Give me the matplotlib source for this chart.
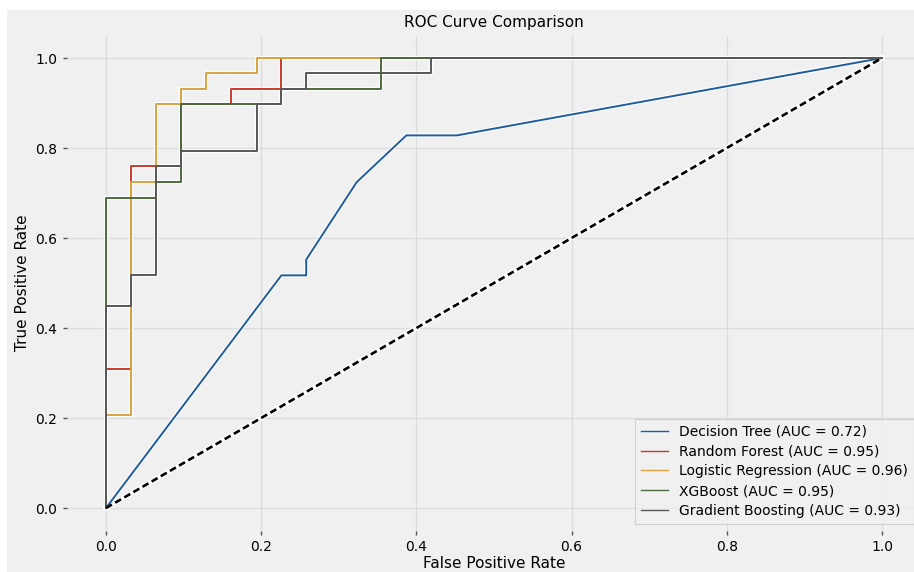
import matplotlib
matplotlib.use("Agg")
import matplotlib.pyplot as plt
from matplotlib.patches import Rectangle

# ROC vertices (29 positives / 31 negatives in the test set)
dt_fpr = [0.0, 0.226, 0.258, 0.258, 0.323, 0.387, 0.452, 1.0]
dt_tpr = [0.0, 0.517, 0.517, 0.552, 0.724, 0.828, 0.828, 1.0]

rf_fpr = [0.0, 0.0, 0.032, 0.032, 0.097, 0.097, 0.161, 0.161, 0.226, 0.226, 1.0]
rf_tpr = [0.0, 0.310, 0.310, 0.759, 0.759, 0.897, 0.897, 0.931, 0.931, 1.0, 1.0]

lr_fpr = [0.0, 0.0, 0.032, 0.032, 0.065, 0.065, 0.097, 0.097, 0.129, 0.129, 0.194, 0.194, 1.0]
lr_tpr = [0.0, 0.207, 0.207, 0.724, 0.724, 0.897, 0.897, 0.931, 0.931, 0.966, 0.966, 1.0, 1.0]

xgb_fpr = [0.0, 0.0, 0.065, 0.065, 0.097, 0.097, 0.226, 0.226, 0.355, 0.355, 1.0]
xgb_tpr = [0.0, 0.690, 0.690, 0.724, 0.724, 0.897, 0.897, 0.931, 0.931, 1.0, 1.0]

gb_fpr = [0.0, 0.0, 0.032, 0.032, 0.065, 0.065, 0.097, 0.097, 0.194, 0.194,
          0.226, 0.226, 0.258, 0.258, 0.419, 0.419, 1.0]
gb_tpr = [0.0, 0.448, 0.448, 0.517, 0.517, 0.759, 0.759, 0.793, 0.793, 0.897,
          0.897, 0.931, 0.931, 0.966, 0.966, 1.0, 1.0]

model_names = ["Decision Tree", "Random Forest", "Logistic Regression", "XGBoost", "Gradient Boosting"]
auc_scores = [0.72, 0.95, 0.96, 0.95, 0.93]
colors = ["#1f5c9c", "#cc3a2c", "#d9a23e", "#4c6a3c", "#585858"]

curves = [(dt_fpr, dt_tpr), (rf_fpr, rf_tpr), (lr_fpr, lr_tpr), (xgb_fpr, xgb_tpr), (gb_fpr, gb_tpr)]

BG = "#f0f0f0"
W, H = 914, 572

fig = plt.figure(figsize=(W / 100, H / 100), dpi=100, facecolor="white")
# grey canvas, with the thin white strip on the top/left like the reference
fig.patches.append(Rectangle((7 / W, 0), 1, 1 - 10 / H, transform=fig.transFigure,
                             facecolor=BG, edgecolor="none", zorder=-10))

ax = fig.add_axes([67.2 / W, 41.5 / H, 853.6 / W, 495 / H])
ax.set_facecolor(BG)
for s in ax.spines.values():
    s.set_visible(False)

# soft white halo under every line first, so crossings stay clean
for fpr, tpr in curves:
    ax.plot(fpr, tpr, color="white", lw=3.0, alpha=0.9, zorder=1.5)
ax.plot([0, 1], [0, 1], color="white", lw=3.6, alpha=0.9, zorder=1.5)

for (fpr, tpr), name, auc, c in zip(curves, model_names, auc_scores, colors):
    ax.plot(fpr, tpr, color=c, lw=1.4, label=f"{name} (AUC = {auc:.2f})", zorder=2)

ax.plot([0, 1], [0, 1], color="black", lw=1.9, linestyle=(0, (2.6, 1.4)), zorder=2.5)

ax.set_xlim(-0.05, 1.05)
ax.set_ylim(-0.05, 1.05)
ax.set_xticks([0.0, 0.2, 0.4, 0.6, 0.8, 1.0])
ax.set_yticks([0.0, 0.2, 0.4, 0.6, 0.8, 1.0])
ax.tick_params(labelsize=10, length=3, width=1, color="#555555", pad=4)
ax.grid(True, color="#dcdcdc", lw=1)
ax.set_axisbelow(True)

ax.set_title("ROC Curve Comparison", fontsize=11, pad=6)
ax.set_xlabel("False Positive Rate", fontsize=11, labelpad=1)
ax.set_ylabel("True Positive Rate", fontsize=11, labelpad=4)

leg = ax.legend(loc="lower right", fontsize=10, frameon=True, fancybox=False,
                borderaxespad=0.5, handlelength=2.0, labelspacing=0.42)
leg.set_zorder(5)
leg.get_frame().set_facecolor(BG)
leg.get_frame().set_edgecolor("#c8c8c8")
leg.get_frame().set_linewidth(0.8)
for line in leg.get_lines():
    line.set_linewidth(1.0)

fig.savefig("out.png", dpi=100, facecolor=fig.get_facecolor())
